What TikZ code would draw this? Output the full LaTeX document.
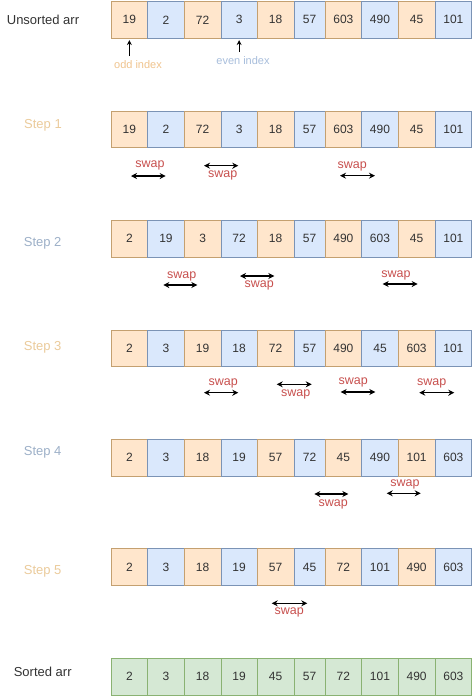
\documentclass[tikz,border=0pt]{standalone}
\usepackage{fontspec}
\setmainfont{Liberation Sans}
\usetikzlibrary{arrows.meta}
\definecolor{ofill}{HTML}{FFE6CC}
\definecolor{odraw}{HTML}{C4A070}
\definecolor{bfill}{HTML}{DAE8FC}
\definecolor{bdraw}{HTML}{7B93B5}
\definecolor{gfill}{HTML}{D5E8D4}
\definecolor{gdraw}{HTML}{8AB272}
\definecolor{steporange}{HTML}{EBCB9B}
\definecolor{stepblue}{HTML}{9DB0C8}
\definecolor{oddc}{HTML}{F0C48E}
\definecolor{evenc}{HTML}{A8BEDC}
\definecolor{swapred}{HTML}{C8504E}
\definecolor{txtdark}{HTML}{333333}
\newcommand\myrow[4]{%
  \foreach \cx/\cw [count=\i from 0] in {129.35/36.7, 166/36.7, 202.65/36.7, 239.15/36.3, 275.65/36.7, 309.5/31, 343.35/36.7, 380/36.7, 416.65/36.7, 453.35/36.7}{%
    \pgfmathtruncatemacro\cv{{#3}[\i]}%
    \ifnum#4=1 \def\st{cellG}\else\ifodd\i \def\st{cellB}\else\def\st{cellO}\fi\fi
    \node[\st, minimum width=\cw*1pt] (r#1c\i) at (\cx, #2+18.35) {\cv};
  }%
}
\newcommand\myswap[6]{%
  \coordinate (#1a) at (#2,#4);
  \coordinate (#1b) at (#3,#4);
  \draw[swaparr] (#1a) -- (#1b);
  \node[swaptxt] (#1t) at (#5,#6) {swap};
}
\begin{document}
\begin{tikzpicture}[x=1pt,y=-1pt,
  cell/.style={draw, line width=0.8pt, minimum height=36.7pt, inner sep=0pt,
    font=\fontsize{12}{14}\selectfont, text=txtdark, anchor=center},
  cellO/.style={cell, fill=ofill, draw=odraw},
  cellB/.style={cell, fill=bfill, draw=bdraw},
  cellG/.style={cell, fill=gfill, draw=gdraw},
  lab/.style={font=\fontsize{13}{15}\selectfont, inner sep=0pt},
  swaptxt/.style={text=swapred, font=\fontsize{12.5}{14}\selectfont, inner sep=0pt},
  swaparr/.style={{Stealth[length=6pt,width=6pt]}-{Stealth[length=6pt,width=6pt]}, line width=1.1pt},
  idxarr/.style={-{Stealth[length=5pt,width=5pt]}, line width=1pt, shorten >=1.5pt},
  idxtxt/.style={font=\fontsize{11}{13}\selectfont, inner sep=0pt},
]
\useasboundingbox[fill=white] (0,0) rectangle (474,697);

\myrow{0}{1.5}{19,2,72,3,18,57,603,490,45,101}{0}
\myrow{1}{111}{19,2,72,3,18,57,603,490,45,101}{0}
\myrow{2}{220.4}{2,19,3,72,18,57,490,603,45,101}{0}
\myrow{3}{329.9}{2,3,19,18,72,57,490,45,603,101}{0}
\myrow{4}{439.3}{2,3,18,19,57,72,45,490,101,603}{0}
\myrow{5}{548.8}{2,3,18,19,57,45,72,101,490,603}{0}
\myrow{6}{658.3}{2,3,18,19,45,57,72,101,490,603}{1}

\node[lab, text=txtdark] (l0) at (43,20) {Unsorted arr};
\node[lab, text=steporange] (l1) at (43,125) {Step 1};
\node[lab, text=stepblue] (l2) at (42.7,243) {Step 2};
\node[lab, text=steporange] (l3) at (42.7,347.7) {Step 3};
\node[lab, text=stepblue] (l4) at (42.7,452) {Step 4};
\node[lab, text=steporange] (l5) at (42.7,571.7) {Step 5};
\node[lab, text=txtdark] (l6) at (42.7,671.7) {Sorted arr};

\node[idxtxt, text=oddc] (oddt) at (138,65) {odd index};
\coordinate (oddtail) at (129.35,56);
\draw[idxarr] (oddtail) -- (r0c0.south);
\node[idxtxt, text=evenc] (event) at (243,61) {even index};
\coordinate (eventail) at (239.15,52);
\draw[idxarr] (eventail) -- (r0c3.south);

\myswap{sa}{131}{165.7}{176}{150}{165.7}
\myswap{sb}{204}{238.3}{165.7}{222.7}{175.7}
\myswap{sc}{340}{375}{175.7}{352.3}{166}

\myswap{sd}{163.3}{197.3}{285}{181.7}{276}
\myswap{se}{240}{274.3}{276}{259.3}{285}
\myswap{sf}{382.7}{417.7}{284}{396}{275}

\myswap{sg}{204}{238.3}{392.7}{223.3}{383.3}
\myswap{sh}{276.7}{311.7}{384.3}{295.7}{394}
\myswap{si}{340.7}{375.3}{392}{353.3}{382.7}
\myswap{sj}{419.3}{454.3}{392.7}{431.7}{383.3}

\myswap{sk}{314.3}{348.3}{494}{333.3}{504}
\myswap{sl}{386.7}{420.7}{493.3}{405}{484.3}

\myswap{sm}{271.7}{307.3}{603.3}{289.3}{612.3}
\end{tikzpicture}
\end{document}
